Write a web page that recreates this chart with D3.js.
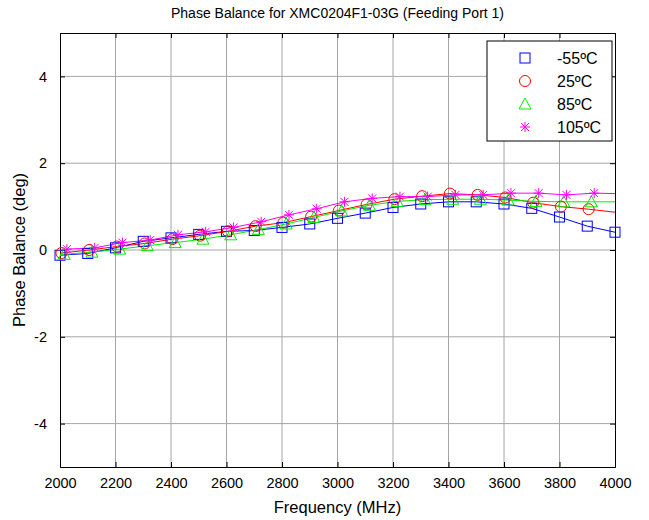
<!DOCTYPE html>
<html>
<head>
<meta charset="utf-8">
<script src="https://cdn.jsdelivr.net/npm/d3@7"></script>
<style>
  body { margin: 0; background: #fff; }
  text { font-family: "Liberation Sans", Arial, sans-serif; }
</style>
</head>
<body>
<div id="chart"></div>
<script>
const width = 649;
const height = 520;

// data (deg), markers every 100 MHz
const names = ['-55ºC', '25ºC', '85ºC', '105ºC'];
const colors = ['#0000ff', '#ff0000', '#00ee00', '#ff00ff'];
const markerFreqs = [2000, 2100, 2200, 2300, 2400, 2500, 2600, 2700, 2800, 2900, 3000,
                     3100, 3200, 3300, 3400, 3500, 3600, 3700, 3800, 3900, 4000];
const markerShift = [0, 5, 15, 25]; // MHz, markers are staggered per trace
const blue = [-0.12, -0.08, 0.05, 0.2, 0.28, 0.36, 0.43, 0.45, 0.52, 0.6, 0.73,
              0.85, 0.98, 1.06, 1.11, 1.11, 1.06, 0.96, 0.76, 0.55, 0.41];
const red = [-0.07, 0.0, 0.08, 0.15, 0.25, 0.33, 0.43, 0.55, 0.63, 0.77, 0.91,
             1.05, 1.17, 1.24, 1.3, 1.27, 1.21, 1.09, 1.0, 0.94];
const green = [-0.1, -0.05, 0.02, 0.1, 0.17, 0.25, 0.35, 0.47, 0.6, 0.75, 0.9,
               1.03, 1.12, 1.16, 1.17, 1.17, 1.15, 1.12, 1.11, 1.11];
const magenta = [0.02, 0.05, 0.17, 0.23, 0.35, 0.42, 0.52, 0.65, 0.81, 0.95, 1.11,
                 1.19, 1.23, 1.23, 1.27, 1.27, 1.31, 1.31, 1.27, 1.31];
// trace values at the band edges
const lineStart = [-0.12, -0.08, -0.12, -0.02];
const lineEnd = [0.41, 0.87, 1.11, 1.3];

const xTicks = [2000, 2200, 2400, 2600, 2800, 3000, 3200, 3400, 3600, 3800, 4000];
const yTicks = [-4, -2, 0, 2, 4];

const margin = {top: 33, right: 34, bottom: 53, left: 60};
const x = d3.scaleLinear().domain([2000, 4000]).range([margin.left, width - margin.right]);
const y = d3.scaleLinear().domain([-5, 5]).range([height - margin.bottom, margin.top]);

const svg = d3.select('#chart').append('svg').attr('width', width).attr('height', height);

// grid
svg.append('g').selectAll('line.gx')
    .data(xTicks.slice(1, -1))
    .join('line')
    .attr('x1', d => x(d)).attr('x2', d => x(d))
    .attr('y1', y(5)).attr('y2', y(-5))
    .attr('stroke', '#a6a6a6').attr('stroke-width', 1);
svg.append('g').selectAll('line.gy')
    .data(yTicks)
    .join('line')
    .attr('x1', x(2000)).attr('x2', x(4000))
    .attr('y1', d => y(d)).attr('y2', d => y(d))
    .attr('stroke', '#a6a6a6').attr('stroke-width', 1);

// axes, ticks pointing inward on all four sides
const plain = d => String(d);
svg.append('g').attr('transform', `translate(0,${y(-5)})`)
    .call(d3.axisBottom(x).tickValues(xTicks).tickSize(-5).tickPadding(11).tickFormat(plain));
svg.append('g').attr('transform', `translate(0,${y(5)})`)
    .call(d3.axisTop(x).tickValues(xTicks).tickSize(-5).tickFormat(''));
svg.append('g').attr('transform', `translate(${x(2000)},0)`)
    .call(d3.axisLeft(y).tickValues(yTicks).tickSize(-5).tickPadding(13).tickFormat(plain));
svg.append('g').attr('transform', `translate(${x(4000)},0)`)
    .call(d3.axisRight(y).tickValues(yTicks).tickSize(-5).tickFormat(''));
svg.selectAll('.domain').attr('stroke', '#000');
svg.selectAll('.tick line').attr('stroke', '#000');
svg.selectAll('.tick text').attr('font-size', 14.5).attr('fill', '#000')
    .style('font-family', '"Liberation Sans", Arial, sans-serif');

// traces
const series = [blue, red, green, magenta];
const traces = series.map((vals, i) => {
  const marks = vals.map((v, j) => ({f: markerFreqs[j] + markerShift[i], v}));
  const pts = [{f: 2000, v: lineStart[i]}].concat(marks.filter(p => p.f > 2000 && p.f < 4000), [{f: 4000, v: lineEnd[i]}]);
  return {name: names[i], color: colors[i], marks, pts, i};
});

const line = d3.line().x(d => x(d.f)).y(d => y(d.v));
svg.append('g').selectAll('path.trace')
    .data(traces)
    .join('path')
    .attr('d', d => line(d.pts))
    .attr('fill', 'none')
    .attr('stroke', d => d.color)
    .attr('stroke-width', 1);

function drawMarker(g, i, color) {
  if (i === 0) {
    g.append('rect').attr('x', -5).attr('y', -5).attr('width', 10).attr('height', 10)
      .attr('fill', 'none').attr('stroke', color);
  } else if (i === 1) {
    g.append('circle').attr('r', 5.5).attr('fill', 'none').attr('stroke', color);
  } else if (i === 2) {
    g.append('path').attr('d', 'M0,-6L6,5L-6,5Z').attr('fill', 'none').attr('stroke', color);
  } else {
    g.append('path').attr('d', 'M-5,0H5M0,-5V5M-4,-4L4,4M-4,4L4,-4')
      .attr('fill', 'none').attr('stroke', color);
  }
}

traces.forEach(t => {
  svg.append('g').selectAll('g.m')
      .data(t.marks)
      .join('g')
      .attr('transform', d => `translate(${x(d.f)},${y(d.v)})`)
      .each(function () { drawMarker(d3.select(this), t.i, t.color); });
});

// legend
const legend = svg.append('g').attr('transform', 'translate(487,41)');
legend.append('rect').attr('width', 125).attr('height', 100)
    .attr('fill', '#fff').attr('stroke', '#000');
traces.forEach((t, k) => {
  const row = legend.append('g').attr('transform', `translate(0,${17 + k * 23})`);
  drawMarker(row.append('g').attr('transform', 'translate(38,0)'), t.i, t.color);
  row.append('text').attr('x', 70).attr('y', 6).attr('font-size', 16).text(t.name);
});

// titles
svg.append('text').attr('x', x(3000)).attr('y', 18).attr('text-anchor', 'middle')
    .attr('font-size', 14).text('Phase Balance for XMC0204F1-03G (Feeding Port 1)');
svg.append('text').attr('x', x(3000)).attr('y', 513).attr('text-anchor', 'middle')
    .attr('font-size', 16.5).text('Frequency (MHz)');
svg.append('text').attr('transform', `translate(25,${y(0)}) rotate(-90)`)
    .attr('text-anchor', 'middle').attr('font-size', 16.5).text('Phase Balance (deg)');
</script>
</body>
</html>
